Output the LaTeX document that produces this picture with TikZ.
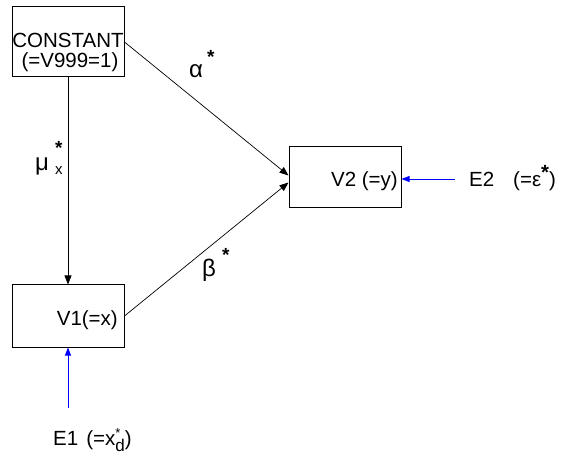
\documentclass[tikz,border=0pt]{standalone}
\usepackage{fontspec}
\setmainfont{Liberation Sans}
\usetikzlibrary{arrows.meta,calc}
\begin{document}
\begin{tikzpicture}[x=1pt,y=-1pt,
  box/.style={draw, line width=1pt, inner sep=0pt, minimum width=112pt},
  txt/.style={inner sep=0pt, font=\fontsize{20.5}{21}\selectfont},
  grk/.style={inner sep=0pt, font=\fontsize{24}{24}\selectfont},
  conn/.style={line width=0.7pt, -{Triangle[length=9pt,width=7pt]}},
  err/.style={line width=0.9pt, blue, -{Triangle[length=8pt,width=6pt]}}]
\useasboundingbox (0,0) rectangle (568,457);
% boxes
\node[box, minimum height=70pt] (c) at (68,42) {};
\node[box, minimum height=62pt] (v1) at (68,316) {};
\node[box, minimum height=61pt] (v2) at (345,177) {};
% box texts
\node[txt, anchor=base] (ct1) at (68,48) {CONSTANT};
\node[txt, anchor=base] (ct2) at (70,68) {(=V999=1)};
\node[txt, anchor=base east] (v1t) at (118,325) {V1(=x)};
\node[txt, anchor=base east] (v2t) at (398,187) {V2 (=y)};
% error terms
\node[txt, anchor=base west] (e2) at (469,187) {E2};
\node[txt, anchor=base west] (e2t) at (513,187) {(=ε\raisebox{7pt}{\textbf{*}})};
\node[txt, anchor=base west] (e1) at (53,445) {E1\hspace{8pt}(=x\rlap{\raisebox{8pt}{\fontsize{13}{13}\selectfont*}}\raisebox{-6pt}{\fontsize{17}{17}\selectfont d})};
\coordinate (e1s) at (68,408);
\coordinate (e2s) at (455,179);
% labels
\node[grk, anchor=base west] (alpha) at (189,78) {α\hspace{4pt}\raisebox{14pt}{\fontsize{19}{19}\selectfont\textbf{*}}};
\node[grk, anchor=base west] (beta) at (202,277) {β\hspace{6pt}\raisebox{16pt}{\fontsize{19}{19}\selectfont\textbf{*}}};
\node[grk, anchor=base west] (mu) at (35,171) {μ\hspace{6pt}\rlap{\raisebox{16pt}{\fontsize{19}{19}\selectfont\textbf{*}}}\raisebox{-4pt}{\fontsize{15}{15}\selectfont x}};
% connectors
\draw[conn] (c.south) -- (v1.north);
\draw[conn] (c.east) -- ($(v2.west)+(0,-1.5)$);
\draw[conn] (v1.east) -- ($(v2.west)+(0,5.5)$);
\draw[err] (e1s) -- (v1.south);
\draw[err] (e2s) -- (e2s -| v2.east);
\end{tikzpicture}
\end{document}
